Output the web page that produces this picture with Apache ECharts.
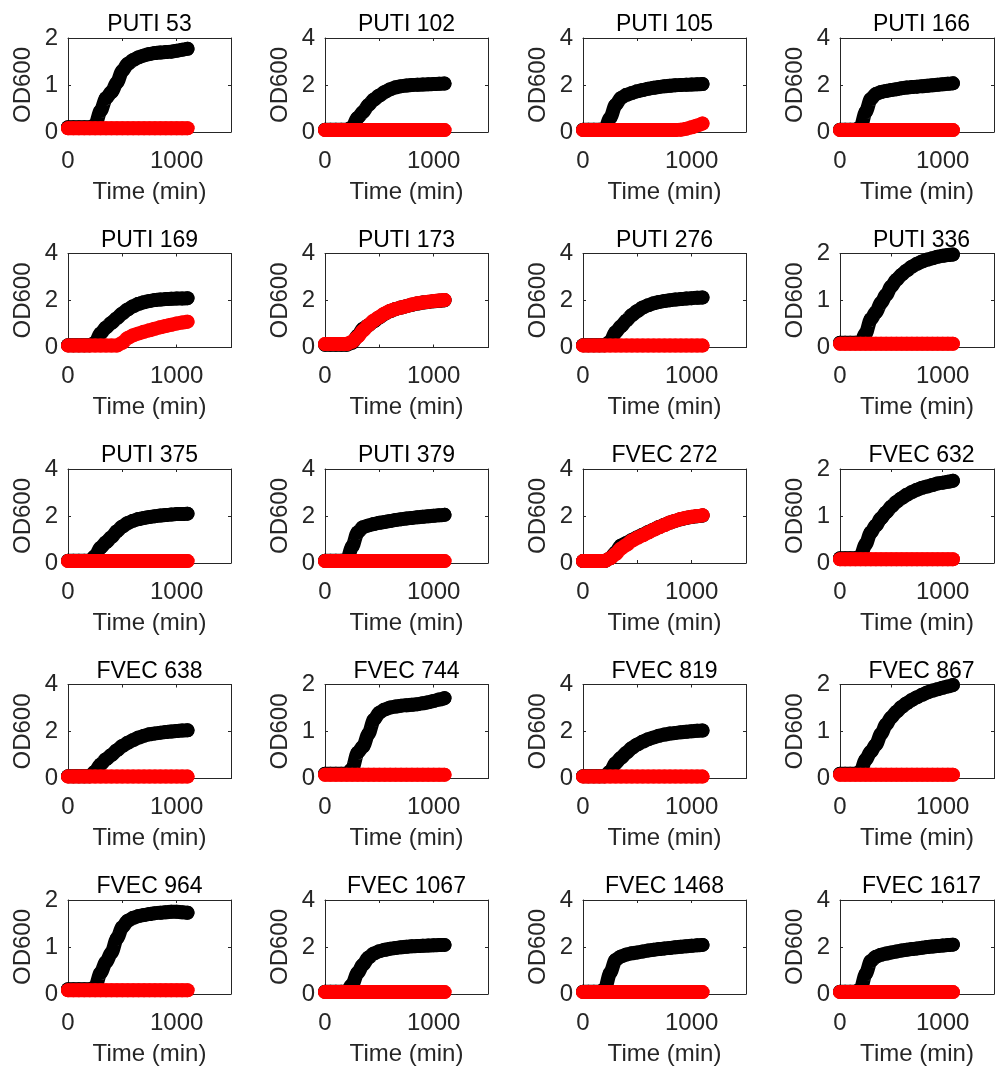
<!DOCTYPE html>
<html>
<head>
<meta charset="utf-8">
<script src="https://cdn.jsdelivr.net/npm/echarts@6/dist/echarts.min.js"></script>
<style>
html,body{margin:0;padding:0;background:#fff;}
#chart{width:997px;height:1070px;}
</style>
</head>
<body>
<div id="chart"></div>
<script>
// Sampling times (min)
const TIME = [0,50,100,150,200,250,300,350,400,450,500,550,600,650,700,750,800,850,900,950,1000,1050,1100];

const TITLES = ['PUTI 53','PUTI 102','PUTI 105','PUTI 166','PUTI 169','PUTI 173','PUTI 276','PUTI 336','PUTI 375','PUTI 379','FVEC 272','FVEC 632','FVEC 638','FVEC 744','FVEC 819','FVEC 867','FVEC 964','FVEC 1067','FVEC 1468','FVEC 1617'];
const YMAX = [2,4,4,4, 4,4,4,2, 4,4,4,2, 4,2,4,2, 2,4,4,4];
const X_TICK_LABELS = [0, 1000];

const puti53Black  = [0.1,0.1,0.1,0.1,0.1,0.15,0.45,0.72,0.85,1.05,1.3,1.45,1.53,1.59,1.63,1.66,1.68,1.69,1.7,1.71,1.73,1.75,1.77];
const puti53Red    = [0.08,0.08,0.08,0.08,0.08,0.08,0.08,0.08,0.08,0.08,0.08,0.08,0.08,0.08,0.08,0.08,0.08,0.08,0.08,0.08,0.08,0.08,0.08];
const puti102Black = [0.1,0.1,0.1,0.1,0.1,0.2,0.6,0.85,1.15,1.38,1.55,1.7,1.82,1.9,1.95,1.98,2.0,2.01,2.02,2.03,2.04,2.05,2.06];
const puti102Red   = [0.08,0.08,0.08,0.08,0.08,0.08,0.08,0.08,0.08,0.08,0.08,0.08,0.08,0.08,0.08,0.08,0.08,0.08,0.08,0.08,0.08,0.08,0.08];
const puti105Black = [0.1,0.1,0.1,0.1,0.1,0.6,1.15,1.45,1.58,1.66,1.73,1.79,1.84,1.88,1.92,1.95,1.97,1.99,2.0,2.01,2.02,2.03,2.04];
const puti105Red   = [0.08,0.08,0.08,0.08,0.08,0.08,0.08,0.08,0.08,0.08,0.08,0.08,0.08,0.08,0.08,0.08,0.08,0.08,0.1,0.14,0.2,0.28,0.36];
const puti166Black = [0.1,0.1,0.1,0.1,0.2,0.85,1.4,1.62,1.7,1.75,1.79,1.82,1.86,1.89,1.91,1.93,1.95,1.97,1.99,2.01,2.03,2.05,2.07];
const puti166Red   = [0.08,0.08,0.08,0.08,0.08,0.08,0.08,0.08,0.08,0.08,0.08,0.08,0.08,0.08,0.08,0.08,0.08,0.08,0.08,0.08,0.08,0.08,0.08];
const puti169Black = [0.1,0.1,0.1,0.1,0.1,0.2,0.6,0.85,1.05,1.25,1.45,1.62,1.76,1.86,1.93,1.98,2.02,2.04,2.06,2.07,2.08,2.09,2.1];
const puti169Red   = [0.08,0.08,0.08,0.08,0.08,0.08,0.08,0.08,0.08,0.08,0.2,0.4,0.52,0.6,0.67,0.73,0.8,0.86,0.92,0.97,1.02,1.06,1.1];
const puti173Black = [0.12,0.12,0.12,0.12,0.12,0.2,0.5,0.8,0.95,1.12,1.28,1.43,1.55,1.64,1.7,1.76,1.82,1.87,1.91,1.94,1.97,1.99,2.01];
const puti173Red   = [0.15,0.15,0.15,0.15,0.15,0.25,0.45,0.72,0.95,1.15,1.3,1.45,1.56,1.64,1.7,1.76,1.83,1.88,1.92,1.95,1.98,2.0,2.02];
const puti276Black = [0.1,0.1,0.1,0.1,0.1,0.25,0.65,0.9,1.15,1.38,1.55,1.7,1.8,1.88,1.94,1.98,2.01,2.04,2.06,2.08,2.1,2.12,2.13];
const puti276Red   = [0.08,0.08,0.08,0.08,0.08,0.08,0.08,0.08,0.08,0.08,0.08,0.08,0.08,0.08,0.08,0.08,0.08,0.08,0.08,0.08,0.08,0.08,0.08];
const puti336Black = [0.1,0.1,0.1,0.1,0.1,0.3,0.6,0.75,0.95,1.12,1.3,1.44,1.55,1.64,1.72,1.78,1.83,1.87,1.9,1.93,1.95,1.97,1.98];
const puti336Red   = [0.08,0.08,0.08,0.08,0.08,0.08,0.08,0.08,0.08,0.08,0.08,0.08,0.08,0.08,0.08,0.08,0.08,0.08,0.08,0.08,0.08,0.08,0.08];
const puti375Black = [0.1,0.1,0.1,0.1,0.1,0.3,0.65,0.88,1.1,1.35,1.55,1.7,1.8,1.87,1.92,1.96,1.99,2.02,2.04,2.06,2.08,2.09,2.1];
const puti375Red   = [0.08,0.08,0.08,0.08,0.08,0.08,0.08,0.08,0.08,0.08,0.08,0.08,0.08,0.08,0.08,0.08,0.08,0.08,0.08,0.08,0.08,0.08,0.08];
const puti379Black = [0.1,0.1,0.1,0.1,0.1,0.7,1.3,1.52,1.6,1.66,1.71,1.75,1.79,1.83,1.86,1.89,1.92,1.95,1.97,1.99,2.01,2.03,2.05];
const puti379Red   = [0.08,0.08,0.08,0.08,0.08,0.08,0.08,0.08,0.08,0.08,0.08,0.08,0.08,0.08,0.08,0.08,0.08,0.08,0.08,0.08,0.08,0.08,0.08];
const fvec272Black = [0.08,0.08,0.08,0.08,0.08,0.2,0.45,0.75,0.85,0.98,1.1,1.2,1.32,1.43,1.53,1.63,1.72,1.8,1.86,1.92,1.96,1.99,2.02];
const fvec272Red   = [0.08,0.08,0.08,0.08,0.08,0.2,0.38,0.62,0.77,0.95,1.07,1.18,1.3,1.42,1.52,1.62,1.72,1.8,1.87,1.93,1.97,2.0,2.03];
const fvec632Black = [0.1,0.1,0.1,0.1,0.15,0.4,0.65,0.8,0.95,1.08,1.2,1.3,1.38,1.45,1.51,1.56,1.6,1.63,1.66,1.69,1.71,1.73,1.75];
const fvec632Red   = [0.08,0.08,0.08,0.08,0.08,0.08,0.08,0.08,0.08,0.08,0.08,0.08,0.08,0.08,0.08,0.08,0.08,0.08,0.08,0.08,0.08,0.08,0.08];
const fvec638Black = [0.1,0.1,0.1,0.1,0.1,0.3,0.6,0.82,1.0,1.2,1.38,1.52,1.64,1.74,1.82,1.88,1.92,1.95,1.98,2.0,2.02,2.04,2.05];
const fvec638Red   = [0.08,0.08,0.08,0.08,0.08,0.08,0.08,0.08,0.08,0.08,0.08,0.08,0.08,0.08,0.08,0.08,0.08,0.08,0.08,0.08,0.08,0.08,0.08];
const fvec744Black = [0.1,0.1,0.1,0.1,0.1,0.2,0.55,0.68,0.95,1.25,1.4,1.47,1.51,1.53,1.55,1.56,1.57,1.58,1.6,1.62,1.65,1.68,1.71];
const fvec744Red   = [0.08,0.08,0.08,0.08,0.08,0.08,0.08,0.08,0.08,0.08,0.08,0.08,0.08,0.08,0.08,0.08,0.08,0.08,0.08,0.08,0.08,0.08,0.08];
const fvec819Black = [0.1,0.1,0.1,0.1,0.1,0.3,0.65,0.88,1.1,1.3,1.45,1.57,1.67,1.75,1.82,1.87,1.91,1.94,1.97,1.99,2.01,2.03,2.04];
const fvec819Red   = [0.08,0.08,0.08,0.08,0.08,0.08,0.08,0.08,0.08,0.08,0.08,0.08,0.08,0.08,0.08,0.08,0.08,0.08,0.08,0.08,0.08,0.08,0.08];
const fvec867Black = [0.1,0.1,0.1,0.1,0.15,0.4,0.57,0.72,0.95,1.15,1.3,1.42,1.52,1.6,1.67,1.73,1.78,1.83,1.87,1.9,1.93,1.96,1.99];
const fvec867Red   = [0.08,0.08,0.08,0.08,0.08,0.08,0.08,0.08,0.08,0.08,0.08,0.08,0.08,0.08,0.08,0.08,0.08,0.08,0.08,0.08,0.08,0.08,0.08];
const fvec964Black = [0.1,0.1,0.1,0.1,0.1,0.15,0.45,0.68,0.88,1.18,1.42,1.56,1.62,1.66,1.68,1.7,1.72,1.73,1.74,1.75,1.75,1.74,1.73];
const fvec964Red   = [0.08,0.08,0.08,0.08,0.08,0.08,0.08,0.08,0.08,0.08,0.08,0.08,0.08,0.08,0.08,0.08,0.08,0.08,0.08,0.08,0.08,0.08,0.08];
const fvec1067Black= [0.1,0.1,0.1,0.1,0.1,0.4,0.9,1.25,1.55,1.72,1.82,1.88,1.93,1.96,1.99,2.01,2.03,2.04,2.05,2.06,2.07,2.08,2.09];
const fvec1067Red  = [0.08,0.08,0.08,0.08,0.08,0.08,0.08,0.08,0.08,0.08,0.08,0.08,0.08,0.08,0.08,0.08,0.08,0.08,0.08,0.08,0.08,0.08,0.08];
const fvec1468Black= [0.1,0.1,0.1,0.1,0.2,0.9,1.45,1.6,1.68,1.73,1.77,1.81,1.85,1.88,1.91,1.94,1.96,1.99,2.01,2.03,2.05,2.07,2.09];
const fvec1468Red  = [0.08,0.08,0.08,0.08,0.08,0.08,0.08,0.08,0.08,0.08,0.08,0.08,0.08,0.08,0.08,0.08,0.08,0.08,0.08,0.08,0.08,0.08,0.08];
const fvec1617Black= [0.1,0.1,0.1,0.1,0.2,0.85,1.4,1.58,1.67,1.72,1.77,1.81,1.85,1.88,1.91,1.94,1.97,2.0,2.02,2.04,2.06,2.08,2.1];
const fvec1617Red  = [0.08,0.08,0.08,0.08,0.08,0.08,0.08,0.08,0.08,0.08,0.08,0.08,0.08,0.08,0.08,0.08,0.08,0.08,0.08,0.08,0.08,0.08,0.08];

const BLACK = [puti53Black,puti102Black,puti105Black,puti166Black,puti169Black,puti173Black,puti276Black,puti336Black,puti375Black,puti379Black,fvec272Black,fvec632Black,fvec638Black,fvec744Black,fvec819Black,fvec867Black,fvec964Black,fvec1067Black,fvec1468Black,fvec1617Black];
const RED = [puti53Red,puti102Red,puti105Red,puti166Red,puti169Red,puti173Red,puti276Red,puti336Red,puti375Red,puti379Red,fvec272Red,fvec632Red,fvec638Red,fvec744Red,fvec819Red,fvec867Red,fvec964Red,fvec1067Red,fvec1468Red,fvec1617Red];

// Layout
const COL_LEFT = [68, 325, 583, 840];
const ROW_TOP = [38, 253.5, 469, 684.5, 900];
const GW = 163, GH = 94;
const FONT = 'Liberation Sans';
const AX = '#262626';

const chart = echarts.init(document.getElementById('chart'), null, {renderer: 'canvas'});
const grid = [], xAxis = [], yAxis = [], series = [], graphic = [];

TITLES.forEach((t, i) => {
  const r = Math.floor(i / 4), c = i % 4;
  const left = COL_LEFT[c], top = ROW_TOP[r];
  grid.push({left: left, top: top, width: GW, height: GH, containLabel: false});
  graphic.push({
    type: 'text', x: left + GW / 2, y: top - 13, z: 10,
    style: {text: t, align: 'center', verticalAlign: 'middle',
      font: '23px "' + FONT + '"', fill: '#000'}
  });
  const axLine = {show: true, onZero: false, lineStyle: {color: AX, width: 1}};
  const tick = {show: true, inside: true, length: 3, lineStyle: {color: AX, width: 1}};
  xAxis.push({
    gridIndex: i, type: 'value', min: 0, max: 1500, interval: 500, position: 'bottom',
    axisLine: axLine, axisTick: tick, splitLine: {show: false},
    axisLabel: {fontFamily: FONT, fontSize: 24, color: AX, margin: 17,
      formatter: v => X_TICK_LABELS.indexOf(v) >= 0 ? String(v) : ''},
    name: 'Time (min)', nameLocation: 'middle', nameGap: 48,
    nameTextStyle: {fontFamily: FONT, fontSize: 24, color: AX}
  });
  xAxis.push({
    gridIndex: i, type: 'value', min: 0, max: 1500, interval: 500, position: 'top',
    axisLine: axLine, axisTick: tick, splitLine: {show: false}, axisLabel: {show: false}
  });
  const ym = YMAX[i];
  yAxis.push({
    gridIndex: i, type: 'value', min: 0, max: ym, interval: ym / 2, position: 'left',
    axisLine: axLine, axisTick: tick, splitLine: {show: false},
    axisLabel: {fontFamily: FONT, fontSize: 24, color: AX, margin: 10},
    name: 'OD600', nameLocation: 'middle', nameGap: 33,
    nameTextStyle: {fontFamily: FONT, fontSize: 24, color: AX}
  });
  yAxis.push({
    gridIndex: i, type: 'value', min: 0, max: ym, interval: ym / 2, position: 'right',
    axisLine: axLine, axisTick: tick, splitLine: {show: false}, axisLabel: {show: false}
  });
  const mk = (vals, color, z) => ({
    type: 'line', xAxisIndex: 2 * i, yAxisIndex: 2 * i,
    data: TIME.map((tm, k) => [tm, vals[k]]),
    smooth: 0.3, smoothMonotone: 'x',
    symbol: 'circle', symbolSize: 14, showSymbol: true,
    itemStyle: {color: color},
    lineStyle: {color: color, width: 14, cap: 'round', join: 'round'},
    clip: false, z: z, silent: true, animation: false
  });
  series.push(mk(BLACK[i], '#000000', 2));
  series.push(mk(RED[i], '#ff0000', 3));
});

chart.setOption({animation: false, backgroundColor: '#fff', graphic, grid, xAxis, yAxis, series});
</script>
</body>
</html>
